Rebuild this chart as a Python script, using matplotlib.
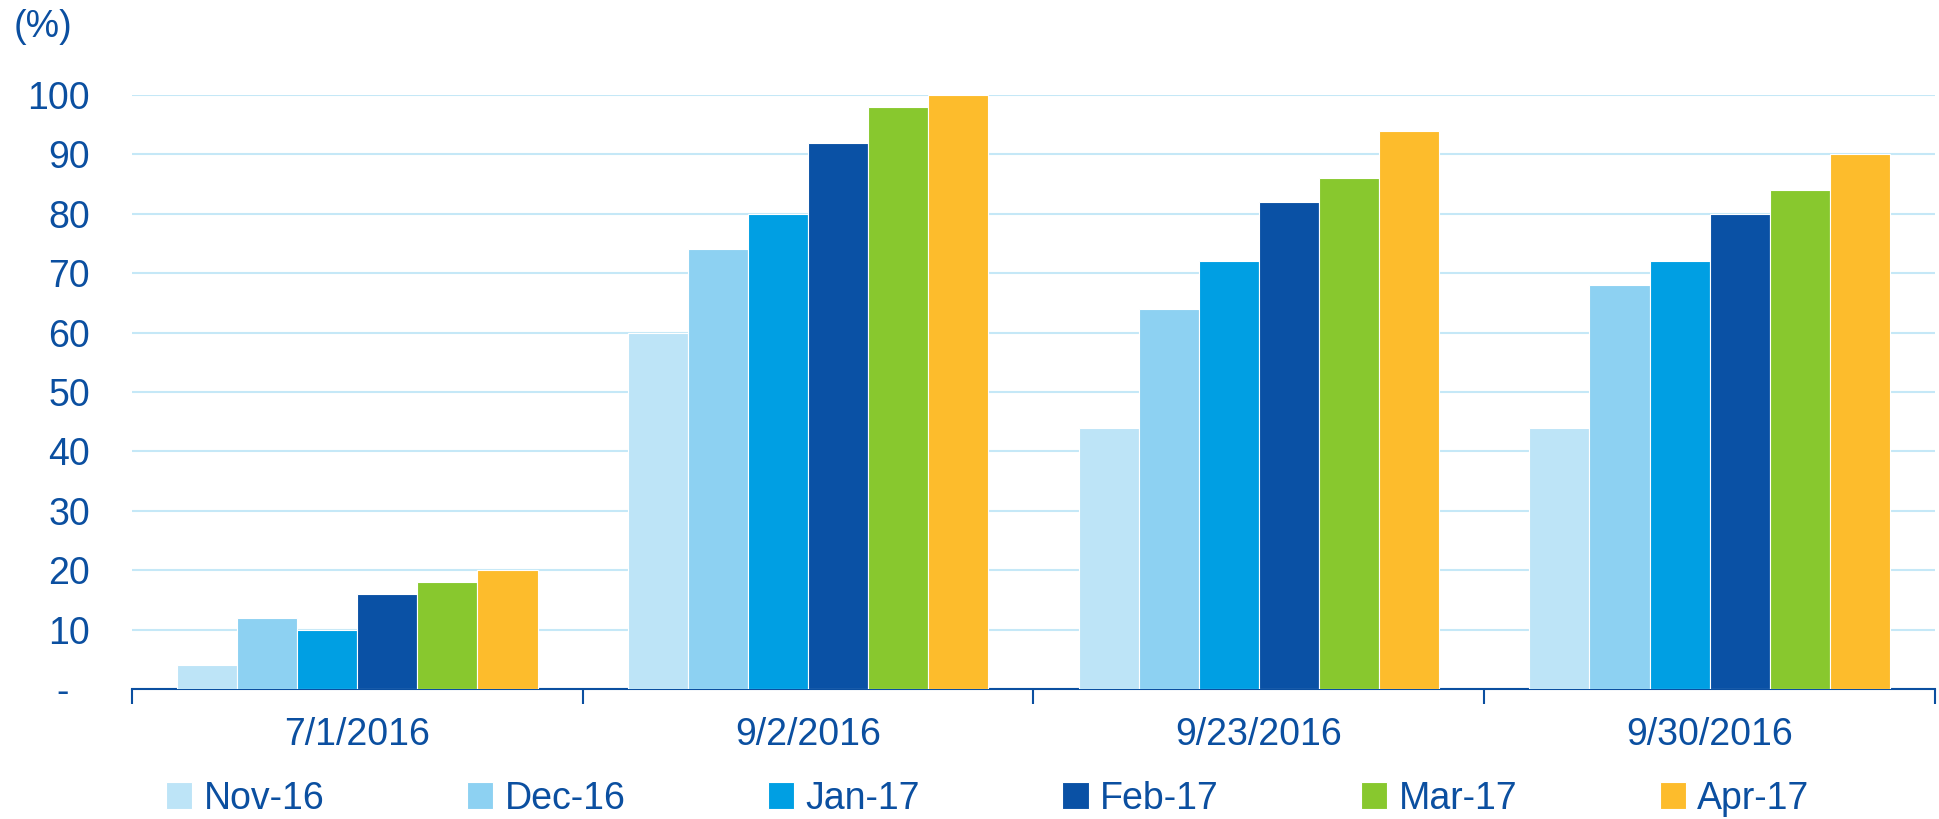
import numpy as np
import matplotlib
matplotlib.use("Agg")
import matplotlib.pyplot as plt
from matplotlib.ticker import FixedLocator, FuncFormatter

plt.rcParams['font.family'] = ['Liberation Sans', 'DejaVu Sans']

dates = ["7/1/2016", "9/2/2016", "9/23/2016", "9/30/2016"]
series = ["Nov-16", "Dec-16", "Jan-17", "Feb-17", "Mar-17", "Apr-17"]
nov16 = [4, 60, 44, 44]
dec16 = [12, 74, 64, 68]
jan17 = [10, 80, 72, 72]
feb17 = [16, 92, 82, 80]
mar17 = [18, 98, 86, 84]
apr17 = [20, 100, 94, 90]
values = [nov16, dec16, jan17, feb17, mar17, apr17]
colors = ["#BDE4F7", "#8DD1F2", "#009FE3", "#0A51A5", "#88C82E", "#FDBC2C"]

txt = "#0B4FA0"
fs = 27

fig = plt.figure(figsize=(19.39, 8.19), dpi=100)
ax = fig.add_axes([0.068, 0.1587, 0.930, 0.7253])

x = np.arange(len(dates))
w = 0.8 / len(series)
for i, (name, vals) in enumerate(zip(series, values)):
    ax.bar(x - 0.4 + w * (i + 0.5), vals, width=w, color=colors[i], label=name,
           edgecolor="white", linewidth=0.8, zorder=3)

ax.set_xlim(-0.5, len(dates) - 0.5)
ax.set_ylim(0, 100)
ax.set_yticks(np.arange(0, 101, 10))
ax.yaxis.set_major_formatter(FuncFormatter(lambda v, p: "-  " if v == 0 else f"{int(v)}"))
ax.grid(axis="y", color="#C5E8F7", linewidth=1.5, zorder=0)
ax.tick_params(axis="y", length=0, pad=30, labelsize=fs, labelcolor=txt)

ax.set_xticks(x)
ax.set_xticklabels(dates)
ax.xaxis.set_minor_locator(FixedLocator(np.arange(-0.5, len(dates), 1.0)))
ax.tick_params(axis="x", which="major", length=0, pad=20, labelsize=fs, labelcolor=txt)
ax.tick_params(axis="x", which="minor", length=11, width=1.5, color=txt)

for s in ["top", "right", "left"]:
    ax.spines[s].set_visible(False)
ax.spines["bottom"].set_color(txt)
ax.spines["bottom"].set_linewidth(1.5)

fig.text(0.007, 0.967, "(%)", fontsize=fs, color=txt, va="center", ha="left")

leg = fig.legend(loc="center left", bbox_to_anchor=(0.078, 0.025), ncol=6, frameon=False,
                 fontsize=fs, handlelength=0.7, handleheight=0.7, handletextpad=0.3,
                 columnspacing=3.8, borderaxespad=0)
for t in leg.get_texts():
    t.set_color(txt)

fig.savefig("out.png", dpi=100)
